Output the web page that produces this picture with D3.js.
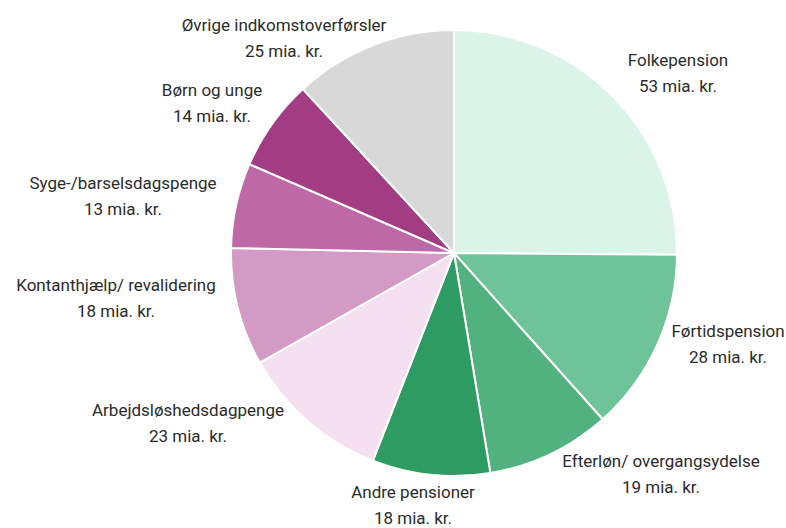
<!DOCTYPE html>
<html>
<head>
<meta charset="utf-8">
<script src="https://cdn.jsdelivr.net/npm/d3@7"></script>
<style>
  html, body { margin: 0; padding: 0; background: #fff; }
  svg { display: block; }
  .slice-label { font-family: "Liberation Sans Narrow", "Roboto", sans-serif; font-size: 17px; fill: #2b2b2b; }
</style>
</head>
<body>
<svg id="chart"></svg>
<script>
  // Data (mia. kr.)
  const categories = [
    "Folkepension",
    "Førtidspension",
    "Efterløn/ overgangsydelse",
    "Andre pensioner",
    "Arbejdsløshedsdagpenge",
    "Kontanthjælp/ revalidering",
    "Syge-/barselsdagspenge",
    "Børn og unge",
    "Øvrige indkomstoverførsler"
  ];
  const values = [53, 28, 19, 18, 23, 18, 13, 14, 25];
  const valueLabels = values.map(v => v + " mia. kr.");
  const colors = [
    "#dbf4e8", "#6fc398", "#52b27f", "#2e9b62",
    "#f4e0f0", "#d29ac5", "#bf68a8", "#a23c83", "#d8d8d8"
  ];
  // label anchor points (center x, first baseline y)
  const labelX = [678, 728, 661, 413, 188, 116, 123, 212, 284];
  const labelY = [66, 337, 467, 498, 416, 291, 189, 96, 31];

  const width = 786, height = 528;
  const cx = 454, cy = 253, radius = 223;

  const svg = d3.select("#chart")
    .attr("width", width)
    .attr("height", height);

  const pie = d3.pie().sort(null).value(d => d);
  const arc = d3.arc().innerRadius(0).outerRadius(radius);

  const g = svg.append("g").attr("transform", `translate(${cx},${cy})`);

  g.selectAll("path")
    .data(pie(values))
    .join("path")
    .attr("d", arc)
    .attr("fill", (d, i) => colors[i])
    .attr("stroke", "#fff")
    .attr("stroke-width", 2)
    .attr("stroke-linejoin", "round");

  // Labels
  const labels = svg.append("g").selectAll("text")
    .data(categories)
    .join("text")
    .attr("class", "slice-label")
    .attr("text-anchor", "middle")
    .attr("x", (d, i) => labelX[i])
    .attr("y", (d, i) => labelY[i]);

  labels.append("tspan").text(d => d);
  labels.append("tspan")
    .attr("x", (d, i) => labelX[i])
    .attr("dy", 26)
    .text((d, i) => valueLabels[i]);
</script>
</body>
</html>
